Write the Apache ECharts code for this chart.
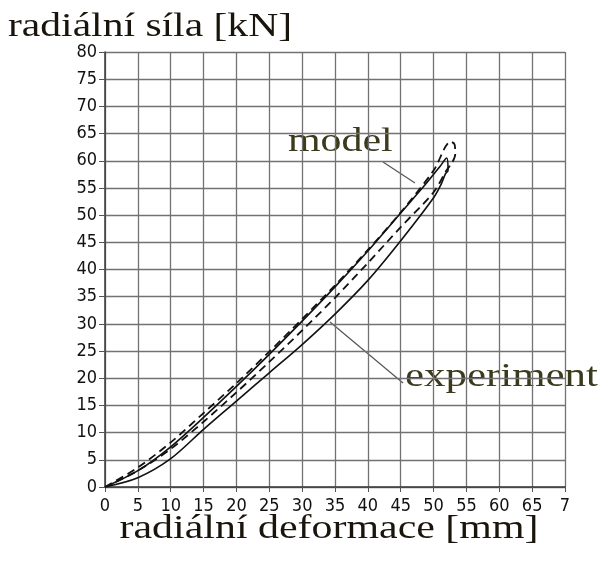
<!DOCTYPE html>
<html>
<head>
<meta charset="utf-8">
<script src="https://cdn.jsdelivr.net/npm/echarts@6/dist/echarts.min.js"></script>
<style>
html,body{margin:0;padding:0;background:#fff;}
#chart{width:605px;height:566px;}
</style>
</head>
<body>
<div id="chart"></div>
<script>
// Tick labels
const xTickLabels = ['0','5','10','15','20','25','30','35','40','45','50','55','60','65','7'];
const yTickLabels = ['0','5','10','15','20','25','30','35','40','45','50','55','60','65','70','75','80'];

// Model (dashed) loop: loading then unloading
const modelX = [0, 5, 10, 15, 20, 25, 30, 35, 40, 45, 50, 52.6, 53.2, 53.3, 52.8, 52, 50, 45, 40, 35, 30, 25, 20, 15, 10, 5, 0];
const modelY = [0, 3.6, 8.2, 13.6, 19.1, 24.9, 30.9, 37.1, 43.6, 50.5, 58.2, 63.5, 63, 61.2, 59.6, 58.3, 54.2, 47.8, 41.2, 34.8, 28.8, 23, 17.4, 12, 7, 3, 0];

// Experiment (solid) loop: loading then unloading
const expX = [0, 5, 10, 15, 20, 25, 30, 35, 40, 45, 49, 51, 52, 52.2, 51.8, 51.2, 50, 45, 40, 35, 30, 25, 20, 15, 10, 5, 0];
const expY = [0, 3.0, 7.4, 12.8, 18.5, 24.4, 30.5, 36.8, 43.4, 50.4, 56, 59, 60.5, 58.2, 57.6, 55.8, 53.2, 45.3, 38, 31.8, 26.2, 21, 15.8, 10.6, 5.2, 1.7, 0];

const serif = '"Liberation Serif","Times New Roman",serif';
const narrow = '"Liberation Sans Narrow","DejaVu Sans Condensed","Liberation Sans",sans-serif';

const chart = echarts.init(document.getElementById('chart'), null, {renderer:'canvas'});
const zip = (xs, ys) => xs.map((x, i) => [x, ys[i]]);

chart.setOption({
  animation: false,
  backgroundColor: '#fff',
  grid: {left: 105, right: 40, top: 52, bottom: 79, containLabel: false},
  xAxis: {
    type: 'value', min: 0, max: 70, interval: 5,
    axisLine: {show: true, lineStyle: {color: '#3a3a3a', width: 1.5}},
    axisTick: {show: true, length: 5, lineStyle: {color: '#555'}},
    axisLabel: {
      margin: 10, color: '#111', fontFamily: narrow, fontSize: 18,
      formatter: v => xTickLabels[Math.round(v / 5)]
    },
    splitLine: {show: true, lineStyle: {color: '#727272', width: 1.3}}
  },
  yAxis: {
    type: 'value', min: 0, max: 80, interval: 5,
    axisLine: {show: true, lineStyle: {color: '#3a3a3a', width: 1.5}},
    axisTick: {show: true, length: 6, lineStyle: {color: '#555'}},
    axisLabel: {
      margin: 8, color: '#111', fontFamily: narrow, fontSize: 18,
      formatter: v => yTickLabels[Math.round(v / 5)]
    },
    splitLine: {show: true, lineStyle: {color: '#727272', width: 1.3}}
  },
  series: [
    {
      type: 'line', name: 'experiment', data: zip(expX, expY), smooth: 0.3,
      showSymbol: false, symbol: 'none',
      lineStyle: {color: '#111', width: 1.6, type: 'solid'}
    },
    {
      type: 'line', name: 'model', data: zip(modelX, modelY), smooth: 0.3,
      showSymbol: false, symbol: 'none',
      lineStyle: {color: '#111', width: 1.8, type: [8, 5]}
    }
  ],
  graphic: [
    {type: 'text', x: 8, y: 27, scaleX: 1.26,
     style: {text: 'radiální síla [kN]', x: 0, y: 0, textAlign: 'left', verticalAlign: 'middle',
             font: '33px ' + serif, fill: '#1a150c'}},
    {type: 'text', x: 329, y: 529, scaleX: 1.27,
     style: {text: 'radiální deformace [mm]', x: 0, y: 0, textAlign: 'center', verticalAlign: 'middle',
             font: '33px ' + serif, fill: '#1a150c'}},
    {type: 'text', x: 288, y: 142, scaleX: 1.27,
     style: {text: 'model', x: 0, y: 0, textAlign: 'left', verticalAlign: 'middle',
             font: '33px ' + serif, fill: '#3b3a1c'}},
    {type: 'text', x: 405, y: 377, scaleX: 1.3,
     style: {text: 'experiment', x: 0, y: 0, textAlign: 'left', verticalAlign: 'middle',
             font: '33px ' + serif, fill: '#3b3a1c'}},
    {type: 'line', shape: {x1: 383, y1: 162, x2: 415, y2: 183},
     style: {stroke: '#555', lineWidth: 1.2}},
    {type: 'line', shape: {x1: 330, y1: 322, x2: 403, y2: 383},
     style: {stroke: '#555', lineWidth: 1.2}}
  ]
});
</script>
</body>
</html>
